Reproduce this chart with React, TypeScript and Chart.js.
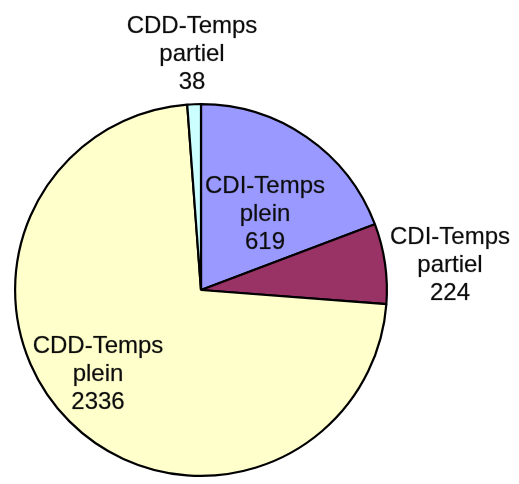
import React, { useEffect, useRef } from "react";
import { Chart, registerables } from "chart.js";

Chart.register(...registerables);

const categories = [
  ["CDI-Temps", "plein"],
  ["CDI-Temps", "partiel"],
  ["CDD-Temps", "plein"],
  ["CDD-Temps", "partiel"],
];
const values = [619, 224, 2336, 38];
const colors = ["#9999FF", "#993366", "#FFFFCC", "#CCFFFF"];

// label anchor (center x, first baseline y) for each slice
const labelAnchors: [number, number][] = [
  [265, 193],
  [450, 244],
  [98, 353],
  [192, 33],
];

const labelPlugin = {
  id: "pieLabels",
  afterDraw(chart: any) {
    const ctx = chart.ctx;
    ctx.save();
    ctx.font = '24px "Liberation Sans", Arial, sans-serif';
    ctx.fillStyle = "#0d0d0d";
    ctx.strokeStyle = "rgba(13,13,13,0.35)";
    ctx.lineWidth = 0.6;
    ctx.textAlign = "center";
    ctx.textBaseline = "alphabetic";
    categories.forEach((lines, i) => {
      const [x, y] = labelAnchors[i];
      const all = [...lines, String(values[i])];
      all.forEach((t, j) => {
        ctx.fillText(t, x, y + j * 28);
        ctx.strokeText(t, x, y + j * 28);
      });
    });
    ctx.restore();
  },
};

export default function App() {
  const ref = useRef<HTMLCanvasElement>(null);
  useEffect(() => {
    const chart = new Chart(ref.current!, {
      type: "pie",
      data: {
        labels: categories.map((c) => c.join(" ")),
        datasets: [
          {
            data: values,
            backgroundColor: colors,
            borderColor: "#000000",
            borderWidth: 2.2,
          },
        ],
      },
      options: {
        responsive: false,
        animation: false,
        layout: { padding: { left: 14, right: 131, top: 103, bottom: 7 } },
        plugins: {
          legend: { display: false },
          tooltip: { enabled: false },
          title: { display: false },
        },
      },
      plugins: [labelPlugin],
    });
    return () => chart.destroy();
  }, []);
  return (
    <div style={{ position: "fixed", left: 0, top: 0, width: 519, height: 484, background: "#fff" }}>
      <canvas ref={ref} width={519} height={484} style={{ width: 519, height: 484 }} />
    </div>
  );
}
